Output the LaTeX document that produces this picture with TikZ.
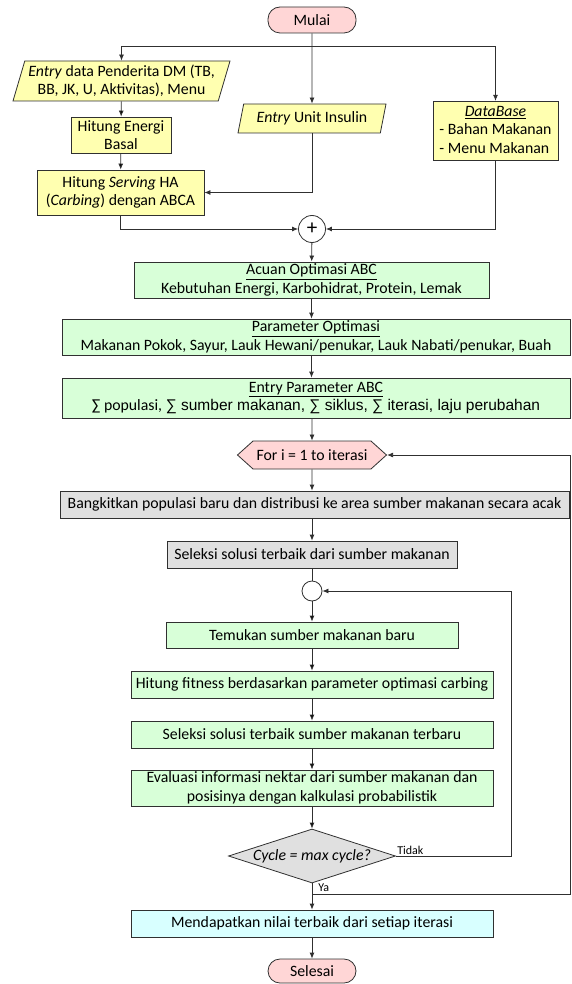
\documentclass[tikz,border=0pt]{standalone}
\usepackage{fontspec}
\setmainfont{Carlito}
\newfontfamily\arialfont{Liberation Sans}
\usetikzlibrary{arrows.meta, shapes.geometric, shapes.symbols}
\definecolor{merahmuda}{HTML}{FFD6D6}
\definecolor{kuning}{HTML}{FFFFB0}
\definecolor{hijau}{HTML}{D8FFD8}
\definecolor{abu}{HTML}{E0E0E0}
\definecolor{biru}{HTML}{D8FFFF}
\definecolor{garis}{HTML}{303030}

\begin{document}
\begin{tikzpicture}[x = 1pt, y = -1pt, >={Latex[length=6pt, width=5pt]},
    font = \fontsize{15.8}{18.5}\selectfont,
    kotak/.style = {draw = garis, line width = 0.8pt, inner sep = 2pt, align = center},
    proses/.style = {kotak, rectangle, fill = hijau},
    hitung/.style = {kotak, rectangle, fill = kuning},
    acak/.style = {kotak, rectangle, fill = abu},
    masukan/.style = {kotak, trapezium, trapezium left angle = 72, trapezium right angle = 108,
                      trapezium stretches body, fill = kuning, inner xsep = 0pt},
    terminal/.style = {kotak, rectangle, rounded corners = 12pt, fill = merahmuda,
                       minimum width = 88pt},
    keterangan/.style = {font = \fontsize{12}{14}\selectfont, inner sep = 1pt},
    alir/.style = {draw = garis, line width = 0.8pt}]
  \useasboundingbox (0,0) rectangle (571,984);

  % bagian masukan
  \node[terminal, minimum height = 26pt] (mulai) at (312,20) {Mulai};
  \node[masukan, minimum width = 217pt, minimum height = 40pt] (entry) at (121.5,81)
    {\textit{Entry} data Penderita DM (TB,\\BB, JK, U, Aktivitas), Menu};
  \node[hitung, minimum width = 100pt, minimum height = 36pt] (energi) at (121,135) {Hitung Energi\\Basal};
  \node[hitung, minimum width = 167pt, minimum height = 45pt] (serving) at (120.5,192.5)
    {Hitung \textit{Serving} HA\\(\textit{Carbing}) dengan ABCA};
  \node[masukan, minimum width = 148pt, minimum height = 29pt] (insulin) at (312,118.5) {\textit{Entry} Unit Insulin};
  \node[hitung, minimum width = 125pt, minimum height = 54pt, align = left] (dbase) at (495.5,131)
    {\begin{tabular}{@{}l@{}}\multicolumn{1}{@{}c@{}}{\underline{\textit{DataBase}}}\\- Bahan Makanan\\- Menu Makanan\end{tabular}};
  \node[kotak, circle, fill = white, minimum size = 27pt, inner sep = 0pt, font = \fontsize{21}{21}\selectfont] (plus) at (312,229) {+};
  \coordinate (cabang) at (312,46);

  % parameter ABC
  \node[proses, minimum width = 355pt, minimum height = 36pt] (acuan) at (311.5,280)
    {\underline{Acuan Optimasi ABC}\\Kebutuhan Energi, Karbohidrat, Protein, Lemak};
  \node[proses, minimum width = 508pt, minimum height = 36pt] (param) at (316,337)
    {\underline{Parameter Optimasi}\\Makanan Pokok, Sayur, Lauk Hewani/penukar, Lauk Nabati/penukar, Buah};
  \node[proses, minimum width = 508pt, minimum height = 40pt] (entryp) at (316,398)
    {\underline{Entry Parameter ABC}\\∑ populasi, {\arialfont\fontsize{15.5}{18.5}\selectfont ∑ sumber makanan, ∑ siklus, ∑ iterasi, laju perubahan}};

  % iterasi
  \node[kotak, signal, signal to = west and east, signal pointer angle = 84, fill = merahmuda,
        minimum width = 149pt, minimum height = 28pt, inner sep = 0pt] (iter) at (312,455) {For i = 1 to iterasi};
  \node[acak, minimum width = 509pt, minimum height = 27pt] (bangkit) at (314.5,504.5)
    {Bangkitkan populasi baru dan distribusi ke area sumber makanan secara acak};
  \node[acak, minimum width = 290pt, minimum height = 27pt] (seleksi) at (312,554.5)
    {Seleksi solusi terbaik dari sumber makanan};
  \node[kotak, circle, fill = white, minimum size = 20pt, inner sep = 0pt] (simpul) at (312,591) {};
  \node[proses, minimum width = 292pt, minimum height = 26pt] (temukan) at (312,635) {Temukan sumber makanan baru};
  \node[proses, minimum width = 362pt, minimum height = 27pt] (fitness) at (312,684.5)
    {Hitung fitness berdasarkan parameter optimasi carbing};
  \node[proses, minimum width = 362pt, minimum height = 27pt] (terbaik) at (312,734.5)
    {Seleksi solusi terbaik sumber makanan terbaru};
  \node[proses, minimum width = 362pt, minimum height = 36pt] (evaluasi) at (312,788)
    {Evaluasi informasi nektar dari sumber makanan dan\\posisinya dengan kalkulasi probabilistik};
  \node[kotak, diamond, fill = abu, minimum width = 167pt, minimum height = 54pt, inner sep = 0pt,
        label = center:{\textit{Cycle = max cycle?}}] (cek) at (312,856) {};
  \node[kotak, rectangle, fill = biru, minimum width = 362pt, minimum height = 27pt] (hasil) at (312,923.5)
    {Mendapatkan nilai terbaik dari setiap iterasi};
  \node[terminal, minimum height = 24pt] (selesai) at (312,971) {Selesai};
  \coordinate (tidak) at (511,856);
  \coordinate (ya) at (312,894);
  \coordinate (balik) at (570,894);

  % garis alir
  \draw[alir, ->] (mulai) -- (insulin);
  \draw[alir, ->] (cabang) -| (entry);
  \draw[alir, ->] (cabang) -| (dbase);
  \path[alir, ->] (entry) edge (energi)
                  (energi) edge (serving);
  \draw[alir, ->] (insulin) |- (serving);
  \draw[alir, ->] (serving) |- (plus);
  \draw[alir, ->] (dbase) |- (plus);
  \draw[alir, ->] (plus) -- (acuan);
  \draw[alir, ->] (acuan.south) -- (acuan.south |- param.north);
  \draw[alir, ->] (acuan.south |- param.south) -- (acuan.south |- entryp.north);
  \draw[alir, ->] (iter.north |- entryp.south) -- (iter);
  \draw[alir, ->] (iter) -- (iter.south |- bangkit.north);
  \draw[alir, ->] (iter.south |- bangkit.south) -- (seleksi);
  \draw[alir] (seleksi) -- (simpul);
  \path[alir, ->] (simpul) edge (temukan)
                  (temukan) edge (fitness)
                  (fitness) edge (terbaik)
                  (terbaik) edge (evaluasi)
                  (evaluasi) edge (cek);
  \draw[alir, ->] (cek.east) -- node[keterangan, above right, pos = 0] {Tidak} (tidak) |- (simpul);
  \draw[alir] (cek.south) -- node[keterangan, right, pos = 0.4, xshift = 5pt] {Ya} (ya);
  \draw[alir, ->] (ya) -- (hasil);
  \draw[alir, ->] (ya) -- (balik) |- (iter);
  \draw[alir, ->] (hasil) -- (selesai);
\end{tikzpicture}
\end{document}
